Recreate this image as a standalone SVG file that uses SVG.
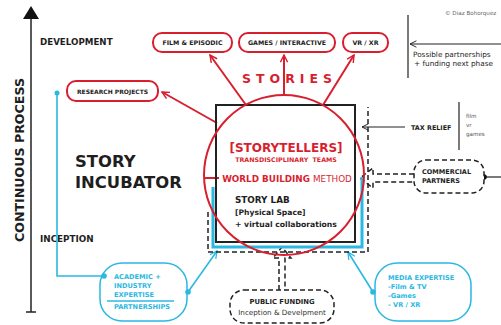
<svg xmlns="http://www.w3.org/2000/svg" width="501" height="325" viewBox="0 0 501 325">
<defs>
<style>
text{font-family:"DejaVu Sans","Liberation Sans",sans-serif;}
.b{font-weight:bold;}
.dk{fill:#1e1e1e;}
.red{fill:#d81f30;}
.cy{fill:#2bb8e2;}
.rbox{fill:#fff;stroke:#d81f30;stroke-width:2;}
.cbox{fill:none;stroke:#2bb8e2;stroke-width:1.5;}
.dbox{fill:#fff;stroke:#222;stroke-width:1.5;stroke-dasharray:5 3;}
.rl{stroke:#d81f30;stroke-width:2;fill:none;}
.cl{stroke:#2bb8e2;stroke-width:1.6;fill:none;}
.kl{stroke:#222;stroke-width:1.2;fill:none;}
.dl{stroke:#222;stroke-width:1.5;fill:none;stroke-dasharray:5 3;}
</style>
<marker id="ar" viewBox="0 0 10 10" refX="9" refY="5" markerWidth="9" markerHeight="9" markerUnits="userSpaceOnUse" orient="auto"><path d="M1,1 L9,5 L1,9" fill="none" stroke="#d81f30" stroke-width="1.6"/></marker>
<marker id="ac" viewBox="0 0 10 10" refX="9" refY="5" markerWidth="9" markerHeight="9" markerUnits="userSpaceOnUse" orient="auto"><path d="M1,1 L9,5 L1,9" fill="none" stroke="#2bb8e2" stroke-width="1.4"/></marker>
<marker id="ak" viewBox="0 0 10 10" refX="9" refY="5" markerWidth="8" markerHeight="8" markerUnits="userSpaceOnUse" orient="auto"><path d="M1,1 L9,5 L1,9" fill="none" stroke="#222" stroke-width="1.2"/></marker>
</defs>
<rect width="501" height="325" fill="#fff"/>

<!-- axis -->
<g id="axis">
<line x1="31" y1="16" x2="31" y2="312" stroke="#222" stroke-width="1.5"/>
<polygon points="31,6 23,19 39,19" fill="#111"/>
<line x1="26" y1="312" x2="36" y2="312" stroke="#222" stroke-width="1.5"/>
<text class="b dk" x="24" y="160" font-size="12.6" text-anchor="middle" transform="rotate(-90 24 160)">CONTINUOUS PROCESS</text>
<text class="b dk" x="40" y="45" font-size="8.7">DEVELOPMENT</text>
<text class="b dk" x="40" y="242" font-size="8.8">INCEPTION</text>
</g>

<g id="title">
<text class="b dk" x="75" y="167" font-size="16.4">STORY</text>
<text class="b dk" x="75" y="188" font-size="16.4">INCUBATOR</text>
</g>

<text x="445" y="15" font-size="5.6" fill="#666">© Diaz Bohorquez</text>

<!-- connectors -->
<g id="connectors">
<line class="rl" x1="217" y1="123" x2="162" y2="92" marker-end="url(#ar)"/>
<line class="rl" x1="246" y1="105" x2="210" y2="55" marker-end="url(#ar)"/>
<line class="rl" x1="284" y1="95" x2="284" y2="55" marker-end="url(#ar)"/>
<line class="rl" x1="323" y1="105" x2="354" y2="55" marker-end="url(#ar)"/>
<line class="rl" x1="204" y1="178" x2="219" y2="178"/>
<polyline class="cl" points="57,93 57,276 104,276"/>
<circle cx="57" cy="93" r="2.5" fill="#2bb8e2"/>
<circle cx="104" cy="276" r="2.8" fill="#2bb8e2"/>
<line class="cl" x1="188" y1="292" x2="217" y2="251" marker-end="url(#ac)"/>
<circle cx="188" cy="292" r="2.8" fill="#2bb8e2"/>
<line class="cl" x1="373" y1="292" x2="348" y2="252" marker-end="url(#ac)"/>
<circle cx="373" cy="292" r="2.8" fill="#2bb8e2"/>
<line class="kl" x1="405" y1="127" x2="362" y2="127" marker-end="url(#ak)"/>
<line class="kl" x1="501" y1="44" x2="410" y2="44" marker-end="url(#ak)"/>
<line class="kl" x1="408" y1="15" x2="408" y2="78"/>
<line class="kl" x1="459" y1="102" x2="459" y2="150"/>
<line class="kl" x1="484" y1="177" x2="501" y2="177"/>
<circle cx="484" cy="177" r="2.8" fill="#111"/>
<path class="dl" d="M414,174 H373 V168 L360,178 L373,188 V182 H414"/>
<path class="dl" d="M279,290 V258 H273 L282,247 L291,258 H285 V290"/>
</g>

<!-- central lab -->
<g id="lab">
<path d="M213,187 V247 H362 V177" fill="none" stroke="#2bb8e2" stroke-width="3"/>
<path class="dl" d="M208,212 V252 H368 V107"/>
<rect x="216" y="105" width="139" height="137" fill="none" stroke="#222" stroke-width="2"/>
<circle cx="284" cy="175" r="80" class="rl"/>
<text class="b red" x="242" y="83" font-size="12.5" letter-spacing="5">STORIES</text>
<text class="b red" x="286" y="152" font-size="12" text-anchor="middle">[STORYTELLERS]</text>
<text class="b red" x="286" y="162" font-size="6.3" text-anchor="middle" xml:space="preserve">TRANSDISCIPLINARY  TEAMS</text>
<text class="red" x="287" y="182" font-size="8.8" text-anchor="middle"><tspan font-weight="bold">WORLD BUILDING </tspan>METHOD</text>
<text class="b dk" x="235" y="203" font-size="8.8">STORY LAB</text>
<text class="b dk" x="235" y="215" font-size="7.6">[Physical Space]</text>
<text class="b dk" x="235" y="227" font-size="7.7">+ virtual collaborations</text>
</g>

<g id="research">
<rect class="rbox" x="67" y="81" width="91" height="20" rx="9"/>
<text class="b dk" x="112.5" y="93.5" font-size="6" text-anchor="middle">RESEARCH PROJECTS</text>
</g>
<g id="film">
<rect class="rbox" x="153" y="33" width="79" height="19" rx="9"/>
<text class="b dk" x="192.5" y="45" font-size="6.3" text-anchor="middle">FILM &amp; EPISODIC</text>
</g>
<g id="games">
<rect class="rbox" x="239" y="33" width="96" height="19" rx="9"/>
<text class="b dk" x="287" y="45" font-size="6.3" text-anchor="middle">GAMES / INTERACTIVE</text>
</g>
<g id="vr">
<rect class="rbox" x="343" y="33" width="45" height="19" rx="9"/>
<text class="b dk" x="365.5" y="45" font-size="6.3" text-anchor="middle">VR / XR</text>
</g>

<g id="partnerships">
<text class="dk" x="413" y="57" font-size="7.3">Possible partnerships</text>
<text class="dk" x="414" y="66" font-size="7.3">+ funding next phase</text>
</g>

<g id="tax">
<text class="b dk" x="411" y="130" font-size="6.4">TAX RELIEF</text>
<text x="466" y="118" font-size="5.6" fill="#555">film</text>
<text x="466" y="127" font-size="5.6" fill="#555">vr</text>
<text x="466" y="136" font-size="5.6" fill="#555">games</text>
</g>

<g id="commercial">
<rect class="dbox" x="414" y="160" width="70" height="33" rx="12"/>
<text class="b dk" x="422" y="174" font-size="6.5">COMMERCIAL</text>
<text class="b dk" x="422" y="183" font-size="6.5">PARTNERS</text>
</g>

<g id="public">
<rect class="dbox" x="230" y="290" width="104" height="33" rx="14"/>
<text class="b dk" x="282" y="304" font-size="6.8" text-anchor="middle">PUBLIC FUNDING</text>
<text x="282" y="315" font-size="7.2" fill="#333" text-anchor="middle">Inception &amp; Develpment</text>
</g>

<g id="academic">
<rect class="cbox" x="100" y="263" width="87" height="58" rx="22"/>
<text class="b cy" x="114" y="279" font-size="6.6">ACADEMIC +</text>
<text class="b cy" x="114" y="288" font-size="6.6">INDUSTRY</text>
<text class="b cy" x="114" y="297" font-size="6.6">EXPERTISE</text>
<line x1="107" y1="301" x2="174" y2="301" stroke="#2bb8e2" stroke-width="1.3"/>
<text class="b cy" x="114" y="309" font-size="6.6">PARTNERSHIPS</text>
</g>

<g id="media">
<rect class="cbox" x="375" y="263" width="96" height="58" rx="22"/>
<text class="b cy" x="388" y="280" font-size="6.6">MEDIA EXPERTISE</text>
<text class="b cy" x="388" y="289" font-size="6.6">-Film &amp; TV</text>
<text class="b cy" x="388" y="298" font-size="6.6">-Games</text>
<text class="b cy" x="388" y="307" font-size="6.6">- VR / XR</text>
</g>
</svg>
